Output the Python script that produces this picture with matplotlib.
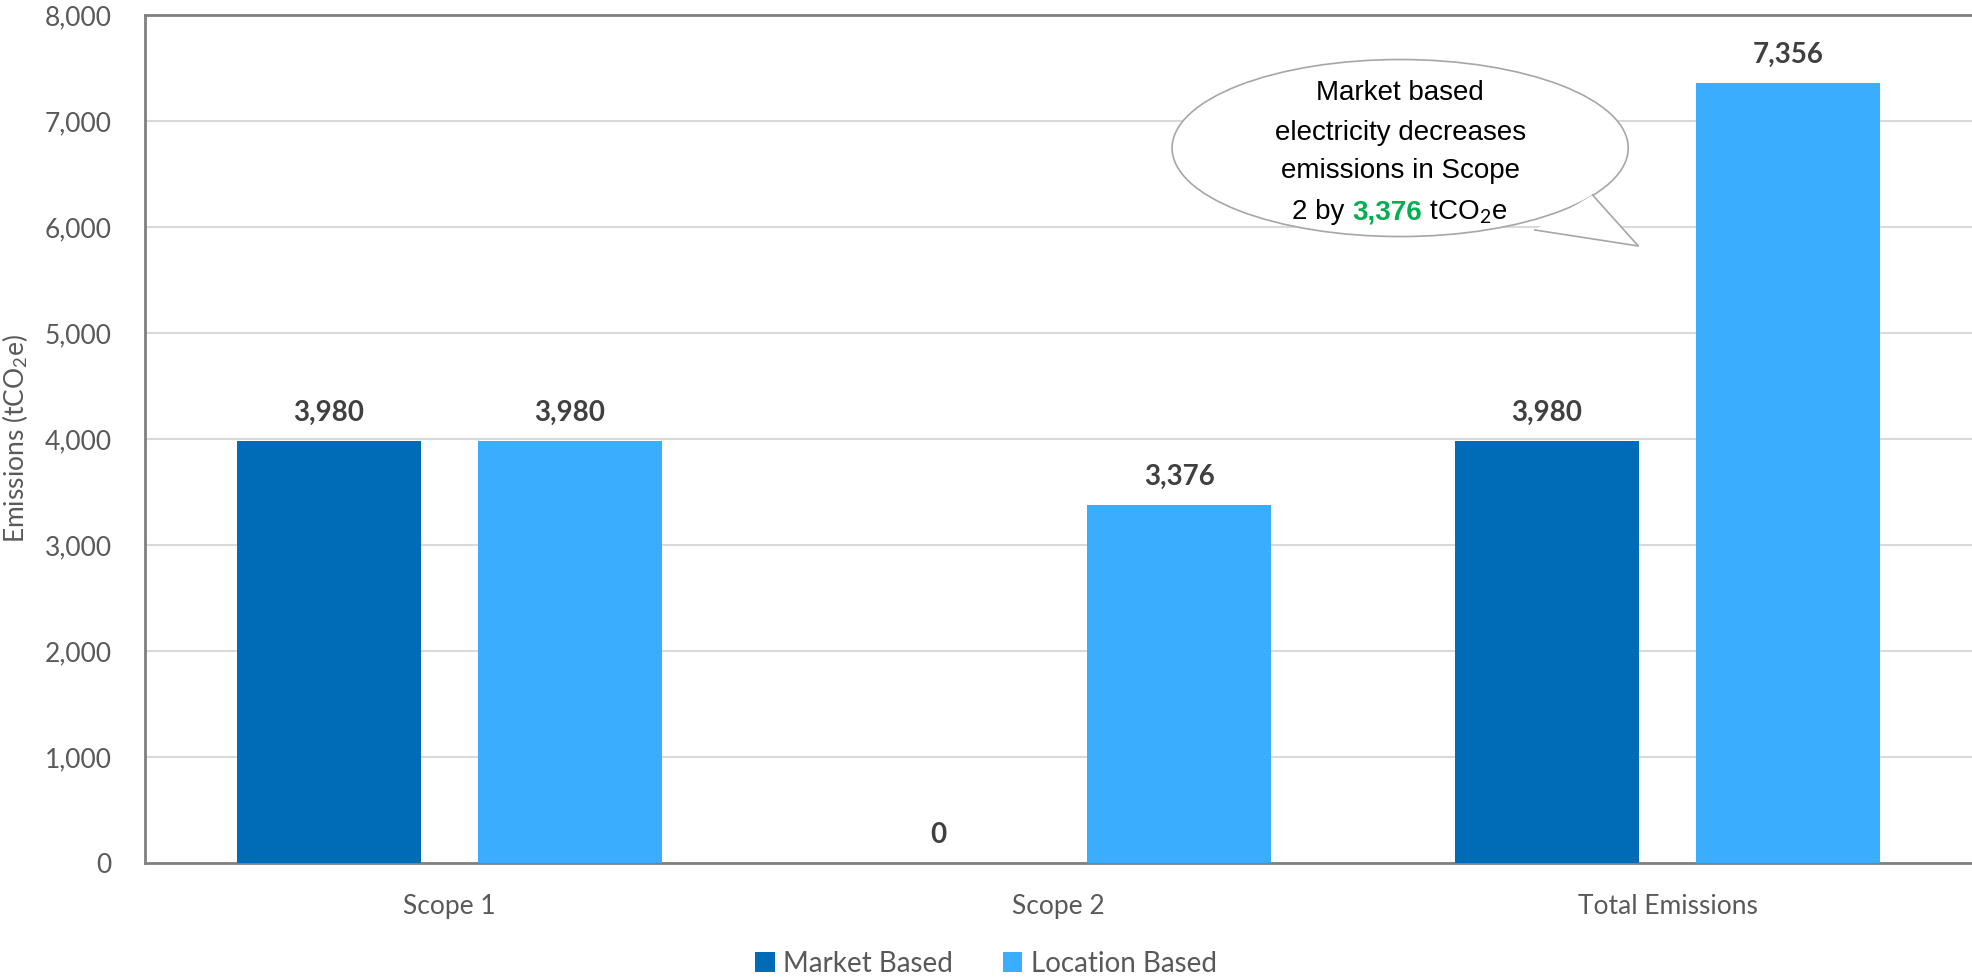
import matplotlib
matplotlib.use("Agg")
import matplotlib.pyplot as plt
import numpy as np
from matplotlib.patches import Ellipse, Polygon

categories = ["Scope 1", "Scope 2", "Total Emissions"]
market = [3980, 0, 3980]
location = [3980, 3376, 7356]
series_names = ["Market Based", "Location Based"]
yticks = [0, 1000, 2000, 3000, 4000, 5000, 6000, 7000, 8000]

DARK, LIGHT = "#006BB6", "#3BADFF"
GRAY_TXT, LBL_TXT = "#595959", "#404040"

plt.rcParams.update({"font.family": ["Lato", "DejaVu Sans"], "font.size": 19,
                     "mathtext.fontset": "custom", "mathtext.rm": "Lato",
                     "mathtext.it": "Lato:italic", "mathtext.bf": "Lato:bold"})

cf, csize = ["Liberation Sans", "DejaVu Sans"], 20  # callout font

fig = plt.figure(figsize=(19.72, 9.8), dpi=100)
ax = fig.add_axes([145 / 1972, 1 - 863 / 980, 1 - 145 / 1972, (863 - 15) / 980])

x = np.arange(len(categories))
w, off = 0.303, 0.198
b1 = ax.bar(x - off, market, w, color=DARK, label=series_names[0], zorder=3)
b2 = ax.bar(x + off, location, w, color=LIGHT, label=series_names[1], zorder=3)
for bars in (b1, b2):
    for b in bars:
        ax.annotate(f"{b.get_height():,.0f}", (b.get_x() + b.get_width() / 2, b.get_height()),
                    xytext=(0, 11), textcoords="offset points", ha="center", va="bottom",
                    fontsize=20, fontweight="bold", color=LBL_TXT)

ax.set_xlim(-0.5, 2.5)
ax.set_ylim(0, 8000)
ax.set_yticks(yticks)
ax.set_yticklabels([f"{v:,}" for v in yticks])
ax.set_xticks(x)
ax.set_xticklabels(categories)
ax.tick_params(axis="both", length=0, colors=GRAY_TXT, labelsize=19)
ax.tick_params(axis="x", pad=22)
ax.tick_params(axis="y", pad=24)
ax.yaxis.grid(True, color="#d9d9d9", lw=1.5, zorder=0)
ax.set_axisbelow(True)
for s in ("left", "top", "bottom"):
    ax.spines[s].set_color("#808080")
    ax.spines[s].set_linewidth(2)
ax.spines["right"].set_visible(False)
ax.set_ylabel("Emissions (tCO$_2$e)", color=GRAY_TXT, fontsize=19)
ax.yaxis.set_label_coords(-0.063, 0.5)

# speech bubble callout
cx, cy, ew, eh = 1.561, 6745, 0.749, 1670
tail = [(1.877, 6302), (1.952, 5821), (1.782, 5972)]
ax.add_patch(Ellipse((cx, cy), ew, eh, facecolor="white", edgecolor="#a6a6a6", lw=1.2, zorder=5))
ax.add_patch(Polygon(tail, closed=True, facecolor="white", edgecolor="none", zorder=6))
ax.plot([p[0] for p in tail], [p[1] for p in tail], color="#a6a6a6", lw=1.2, zorder=7)

lines = ["Market based", "electricity decreases", "emissions in Scope"]
line_y = [7264, 6887, 6528]
for t, yy in zip(lines, line_y):
    ax.text(cx, yy, t, ha="center", va="center", fontsize=csize, family=cf, zorder=8)
# last line with green bold number, assembled piece by piece
pieces = [("2 by ", "black", "normal"), ("3,376", "#00B050", "bold"), (" tCO$_2$e", "black", "normal")]
fig.canvas.draw()
r = fig.canvas.get_renderer()
tmp = [ax.text(0, 0, t, fontsize=csize, family=cf, color=c, fontweight=fw) for t, c, fw in pieces]
widths = [tt.get_window_extent(r).width for tt in tmp]
for tt in tmp:
    tt.remove()
px0, py0 = ax.transData.transform((cx, 6075))
start = px0 - sum(widths) / 2
inv = ax.transData.inverted()
for (t, c, fw), wd in zip(pieces, widths):
    xd, yd = inv.transform((start, py0))
    ax.text(xd, yd, t, fontsize=csize, family=cf, color=c, fontweight=fw,
            ha="left", va="baseline", zorder=8)
    start += wd

fig.legend(handles=[b1, b2], labels=series_names, loc="lower center", bbox_to_anchor=(0.5, -0.022),
           ncol=2, frameon=False, fontsize=20, handlelength=0.7, handleheight=0.7,
           handletextpad=0.3, columnspacing=1.8, labelcolor=GRAY_TXT)

fig.savefig("out.png", dpi=100)
